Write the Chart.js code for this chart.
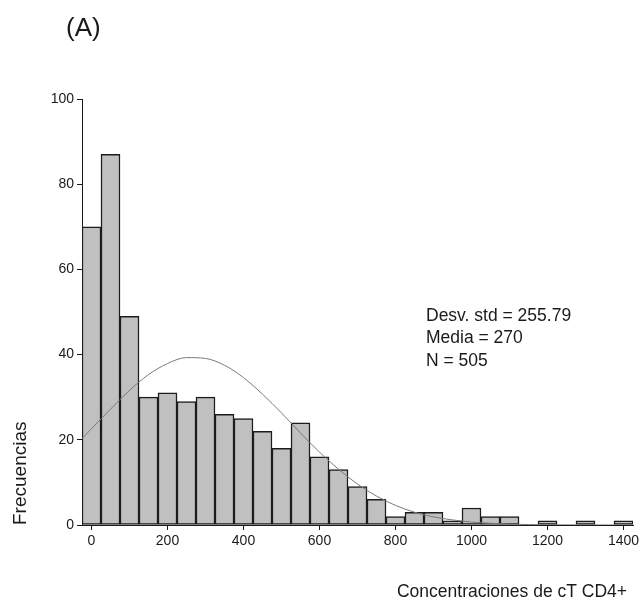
<!DOCTYPE html>
<html>
<head>
<meta charset="utf-8">
<script src="https://cdn.jsdelivr.net/npm/chart.js@4"></script>
<style>
  html, body { margin: 0; padding: 0; background: #fff; }
  #wrap { position: relative; width: 644px; height: 604px; }
</style>
</head>
<body>
<div id="wrap"><canvas id="histChart"></canvas></div>
<script>
/* Histograma de cT CD4+ con curva normal */

const binCenters = [0, 50, 100, 150, 200, 250, 300, 350, 400, 450, 500, 550, 600, 650, 700,
                    750, 800, 850, 900, 950, 1000, 1050, 1100, 1150, 1200, 1250, 1300, 1350, 1400];
const counts     = [70, 87, 49, 30, 31, 29, 30, 26, 25, 22, 18, 24, 16, 13, 9,
                    6, 2, 3, 3, 1, 4, 2, 2, 0, 1, 0, 1, 0, 1];

// normal curve
const curveX = [-25, 0, 50, 100, 150, 200, 250, 300, 350, 400, 450, 500, 550, 600, 650,
                700, 750, 800, 850, 900, 950, 1000, 1050, 1100, 1200, 1300, 1425];
const curveY = [20.3, 22.6, 27.2, 31.6, 35.3, 37.9, 39.3, 39.1, 37.5, 34.6, 30.7, 26.3, 21.6, 17.1, 13.1,
                9.6, 6.8, 4.6, 3.0, 1.9, 1.2, 0.7, 0.4, 0.2, 0.05, 0.01, 0];

const xTicks = [0, 200, 400, 600, 800, 1000, 1200, 1400];
const yTicks = [0, 20, 40, 60, 80, 100];

const panelLabel = '(A)';
const statsLines = ['Desv. std = 255.79', 'Media = 270', 'N = 505'];
const xTitle = 'Concentraciones de cT CD4+';
const yTitle = 'Frecuencias';

const FONT = '"Liberation Sans", Arial, sans-serif';
const INK = '#1a1a1a';

// extra text: panel label, summary stats and x title
const textPlugin = {
  id: 'extraText',
  afterDraw(chart) {
    const c = chart.ctx;
    c.save();
    c.fillStyle = INK;
    c.textBaseline = 'middle';
    c.textAlign = 'left';
    c.font = '26px ' + FONT;
    c.fillText(panelLabel, 66, 29);
    c.font = '17.5px ' + FONT;
    statsLines.forEach((s, i) => c.fillText(s, 426, 316 + i * 22.5));
    c.textAlign = 'right';
    c.font = '17.5px ' + FONT;
    c.fillText(xTitle, 627, 592);
    c.restore();
  }
};

new Chart(document.getElementById('histChart'), {
  type: 'bar',
  data: {
    datasets: [
      {
        type: 'line',
        data: curveX.map((x, i) => ({ x, y: curveY[i] })),
        borderColor: '#7a7a7a',
        borderWidth: 1,
        pointRadius: 0,
        cubicInterpolationMode: 'monotone',
        fill: false,
        order: 0
      },
      {
        type: 'bar',
        data: binCenters.map((x, i) => ({ x, y: counts[i] > 0 ? counts[i] : null })),
        backgroundColor: '#c0c0c0',
        borderColor: '#1c1c1c',
        borderWidth: 1.5,
        borderSkipped: false,
        barPercentage: 1,
        categoryPercentage: 1,
        order: 1
      }
    ]
  },
  options: {
    responsive: true, maintainAspectRatio: false, animation: false,
    layout: { padding: { top: 99, right: 11, left: 0, bottom: 0 } },
    plugins: { legend: { display: false }, tooltip: { enabled: false } },
    scales: {
      x: {
        type: 'linear', min: -25, max: 1425, offset: false,
        grid: { display: true, drawOnChartArea: false, drawTicks: true, tickLength: 5, color: INK, offset: false },
        border: { display: true, color: INK, width: 1 },
        afterBuildTicks: s => { s.ticks = xTicks.map(v => ({ value: v })); },
        ticks: { font: { family: FONT, size: 14 }, color: INK, padding: 3, maxRotation: 0,
                 callback: v => String(v) },
        title: { display: false },
        afterFit: s => { s.height = 79; }
      },
      y: {
        type: 'linear', min: 0, max: 100,
        grid: { display: true, drawOnChartArea: false, drawTicks: true, tickLength: 5, color: INK },
        border: { display: true, color: INK, width: 1 },
        afterBuildTicks: s => { s.ticks = yTicks.map(v => ({ value: v })); },
        ticks: { font: { family: FONT, size: 14 }, color: INK, padding: 3, callback: v => String(v) },
        title: { display: true, text: yTitle, align: 'start', font: { family: FONT, size: 19 }, color: INK,
                 padding: { top: 9, bottom: 0 } },
        afterFit: s => { s.width = 82; }
      }
    }
  },
  plugins: [textPlugin]
});
</script>
</body>
</html>
